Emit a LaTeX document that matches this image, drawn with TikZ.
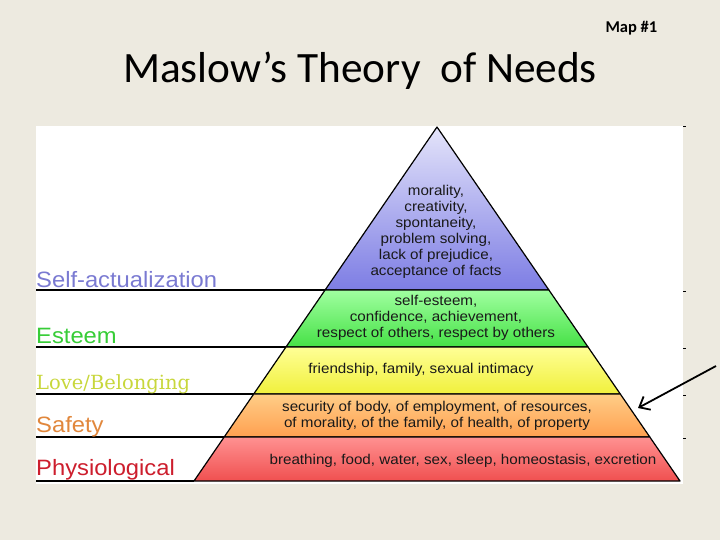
\documentclass[tikz,border=0pt]{standalone}
\usepackage{fontspec}
\usepackage{tikz}
\usepackage{xcolor}
\usetikzlibrary{calc,arrows.meta}
\newfontfamily\titlefont{Carlito}
\newfontfamily\needfont[FakeStretch=1.07]{Liberation Sans}
\newfontfamily\lovefont{DejaVu Serif}
\definecolor{slide}{RGB}{237,234,224}
\definecolor{selfCol}{RGB}{122,122,210}
\definecolor{esteemCol}{RGB}{55,205,55}
\definecolor{loveCol}{RGB}{200,215,60}
\definecolor{safetyCol}{RGB}{225,135,60}
\definecolor{bodyCol}{RGB}{205,30,45}
\definecolor{selfTop}{RGB}{228,228,250}
\definecolor{selfBot}{RGB}{125,125,228}
\definecolor{esteemTop}{RGB}{160,255,160}
\definecolor{esteemBot}{RGB}{70,225,70}
\definecolor{loveTop}{RGB}{255,255,150}
\definecolor{loveBot}{RGB}{240,240,60}
\definecolor{safetyTop}{RGB}{255,205,135}
\definecolor{safetyBot}{RGB}{255,160,80}
\definecolor{bodyTop}{RGB}{255,145,145}
\definecolor{bodyBot}{RGB}{240,80,80}

\begin{document}
\begin{tikzpicture}[x=1pt, y=-1pt,
    need/.style = {align=center, inner sep=0pt, text=black!90,
      font=\needfont\fontsize{14.2}{16}\selectfont},
    level/.style = {anchor=base west, inner sep=0pt,
      font=\needfont\fontsize{22.2}{24}\selectfont},
    tier/.style = {draw=black, line width=1.2pt, line join=round},
    rule/.style = {draw=black, line width=1.5pt}]
  \useasboundingbox (0,0) rectangle (720,540);
  \fill[slide] (0,0) rectangle (720,540);
  \fill[white] (36,126) rectangle (683,484);

  \node[anchor=base, font=\titlefont\fontsize{43.3}{48}\selectfont] (title)
    at (360,83) {Maslow’s Theory\ \ of Needs};
  \node[anchor=base west, font=\titlefont\bfseries\fontsize{16.5}{18}\selectfont] (map)
    at (602,33) {Map \#1};

  % pyramid
  \coordinate (apex) at (437,127);
  \coordinate (bl) at (194,481);
  \coordinate (br) at (680,481);
  \coordinate (edge) at (36,0);
  \foreach \n/\f in {1/0.4605, 2/0.6215, 3/0.7542, 4/0.8757} {
    \coordinate (l\n) at ($(apex)!\f!(bl)$);
    \coordinate (r\n) at ($(apex)!\f!(br)$);
  }
  \shade[tier, top color=selfTop, bottom color=selfBot] (apex) -- (r1) -- (l1) -- cycle;
  \shade[tier, top color=esteemTop, bottom color=esteemBot] (l1) -- (r1) -- (r2) -- (l2) -- cycle;
  \shade[tier, top color=loveTop, bottom color=loveBot] (l2) -- (r2) -- (r3) -- (l3) -- cycle;
  \shade[tier, top color=safetyTop, bottom color=safetyBot] (l3) -- (r3) -- (r4) -- (l4) -- cycle;
  \shade[tier, top color=bodyTop, bottom color=bodyBot] (l4) -- (r4) -- (br) -- (bl) -- cycle;
  \foreach \n in {1,2,3,4}
    \draw[rule] (edge |- l\n) -- (l\n);
  \draw[rule] (edge |- bl) -- (bl);

  \node[need] (self) at (436,232) {morality,\\creativity,\\spontaneity,\\problem solving,\\lack of prejudice,\\acceptance of facts};
  \node[need] (esteem) at (436,318) {self-esteem,\\confidence, achievement,\\respect of others, respect by others};
  \node[need] (love) at (421,370) {friendship, family, sexual intimacy};
  \node[need] (safety) at (437,416) {security of body, of employment, of resources,\\of morality, of the family, of health, of property};
  \node[need] (body) at (463,461) {breathing, food, water, sex, sleep, homeostasis, excretion};

  \node[level, text=selfCol] (selfLab) at (36,287) {Self-actualization};
  \node[level, text=esteemCol] (esteemLab) at (36,343) {Esteem};
  \node[level, text=loveCol, font=\lovefont\fontsize{19.5}{21}\selectfont] (loveLab) at (36,389) {Love/Belonging};
  \node[level, text=safetyCol] (safetyLab) at (36,432) {Safety};
  \node[level, text=bodyCol] (bodyLab) at (36,475) {Physiological};

  % ticks on the right edge
  \foreach \y in {127,291,348,395,438}
    \draw[line width=1pt] (683,\y) -- (686,\y);

  \coordinate (tail) at (716,366);
  \coordinate (tip) at (638,408);
  \draw[line width=1.8pt, -{Straight Barb[length=9pt,width=15pt]}] (tail) -- (tip);
\end{tikzpicture}
\end{document}
